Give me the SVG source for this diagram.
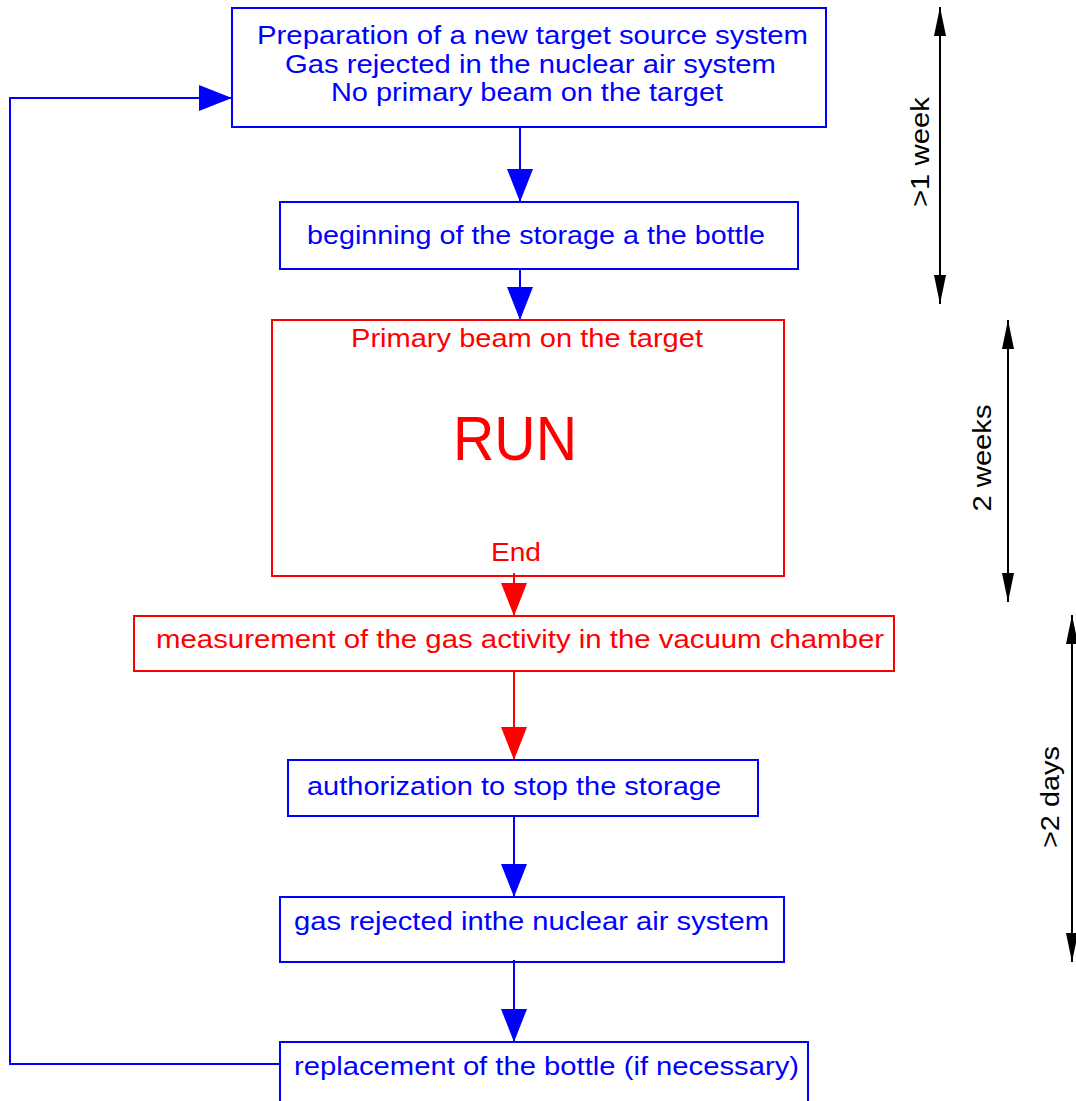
<svg xmlns="http://www.w3.org/2000/svg" width="1076" height="1101" viewBox="0 0 1076 1101">
<style>
text{font-family:"Liberation Sans",Arial,sans-serif;font-size:26px}
.b{fill:none;stroke:#0000ff;stroke-width:2}
.r{fill:none;stroke:#ff0000;stroke-width:2}
.tb{fill:#0000ff}
.tr{fill:#ff0000}
.tk{fill:#000}
.cb{fill:none;stroke:#0000ff;stroke-width:2;marker-end:url(#ab)}
.cr{fill:none;stroke:#ff0000;stroke-width:2;marker-end:url(#ar)}
.ck{fill:none;stroke:#000;stroke-width:2;marker-start:url(#ak);marker-end:url(#ak)}
</style>
<defs>
<marker id="ab" markerUnits="userSpaceOnUse" markerWidth="34" markerHeight="26" refX="33" refY="13" orient="auto"><path d="M0,0 L33,13 L0,26 z" fill="#0000ff"/></marker>
<marker id="ar" markerUnits="userSpaceOnUse" markerWidth="34" markerHeight="26" refX="33" refY="13" orient="auto"><path d="M0,0 L33,13 L0,26 z" fill="#ff0000"/></marker>
<marker id="ak" markerUnits="userSpaceOnUse" markerWidth="30" markerHeight="12" refX="29" refY="6" orient="auto-start-reverse"><path d="M0,0 L29,6 L0,12 z" fill="#000"/></marker>
</defs>
<g id="connectors">
<line class="cb" x1="520" y1="127" x2="520" y2="202"/>
<line class="cb" x1="520" y1="269" x2="520" y2="320"/>
<line class="cr" x1="514" y1="573" x2="514" y2="616"/>
<line class="cr" x1="514" y1="671" x2="514" y2="760"/>
<line class="cb" x1="514" y1="816" x2="514" y2="897"/>
<line class="cb" x1="514" y1="960" x2="514" y2="1042"/>
<polyline class="cb" points="280,1064 10,1064 10,98 232,98"/>
<line class="ck" x1="940" y1="7" x2="940" y2="304"/>
<line class="ck" x1="1008" y1="320" x2="1008" y2="602"/>
<line class="ck" x1="1072" y1="615" x2="1072" y2="962"/>
</g>
<g id="n1">
<rect class="b" x="232" y="8" width="594" height="119"/>
<text class="tb" x="257" y="44" textLength="551" lengthAdjust="spacingAndGlyphs">Preparation of a new target source system</text>
<text class="tb" x="285" y="73" textLength="491" lengthAdjust="spacingAndGlyphs">Gas rejected in the nuclear air system</text>
<text class="tb" x="331" y="101" textLength="392" lengthAdjust="spacingAndGlyphs">No primary beam on the target</text>
</g>
<g id="n2">
<rect class="b" x="280" y="202" width="518" height="67"/>
<text class="tb" x="307" y="244" textLength="458" lengthAdjust="spacingAndGlyphs">beginning of the storage a the bottle</text>
</g>
<g id="n3">
<rect class="r" x="272" y="320" width="512" height="256"/>
<text class="tr" x="351" y="347" textLength="352" lengthAdjust="spacingAndGlyphs">Primary beam on the target</text>
<text class="tr" x="453" y="460" style="font-size:63px" textLength="124" lengthAdjust="spacingAndGlyphs">RUN</text>
<text class="tr" x="491" y="561" textLength="50" lengthAdjust="spacingAndGlyphs">End</text>
</g>
<g id="n4">
<rect class="r" x="134" y="616" width="760" height="55"/>
<text class="tr" x="156" y="648" textLength="728" lengthAdjust="spacingAndGlyphs">measurement of the gas activity in the vacuum chamber</text>
</g>
<g id="n5">
<rect class="b" x="288" y="760" width="470" height="56"/>
<text class="tb" x="307" y="795" textLength="414" lengthAdjust="spacingAndGlyphs">authorization to stop the storage</text>
</g>
<g id="n6">
<rect class="b" x="280" y="897" width="504" height="65"/>
<text class="tb" x="294" y="930" textLength="475" lengthAdjust="spacingAndGlyphs">gas rejected inthe nuclear air system</text>
</g>
<g id="n7">
<rect class="b" x="280" y="1042" width="528" height="80"/>
<text class="tb" x="294" y="1075" textLength="505" lengthAdjust="spacingAndGlyphs">replacement of the bottle (if necessary)</text>
</g>
<g id="timeline-labels">
<text class="tk" transform="translate(929,152) rotate(-90)" text-anchor="middle" textLength="110" lengthAdjust="spacingAndGlyphs">&gt;1 week</text>
<text class="tk" transform="translate(991,458) rotate(-90)" text-anchor="middle" textLength="107" lengthAdjust="spacingAndGlyphs">2 weeks</text>
<text class="tk" transform="translate(1059,797) rotate(-90)" text-anchor="middle" textLength="102" lengthAdjust="spacingAndGlyphs">&gt;2 days</text>
</g>
</svg>
